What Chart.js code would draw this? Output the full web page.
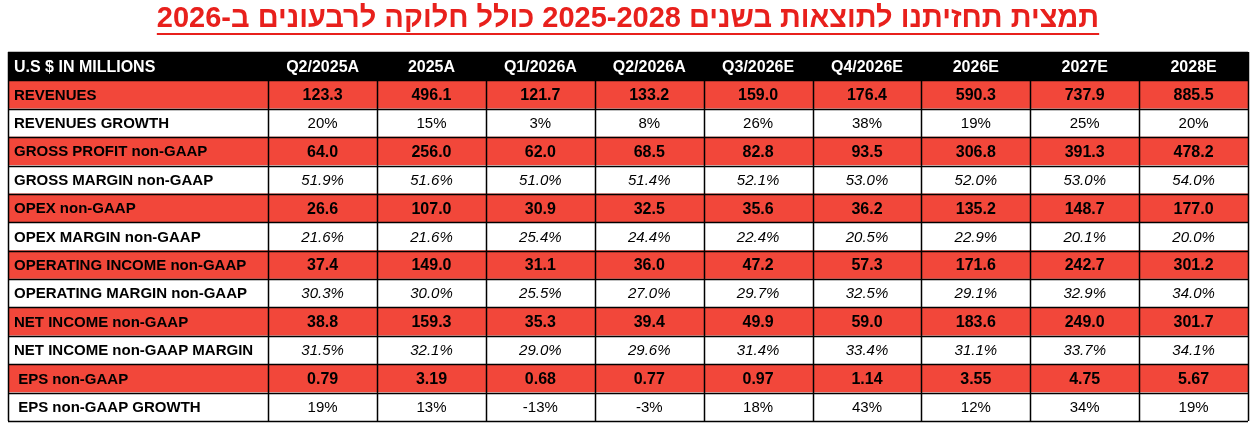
<!DOCTYPE html>
<html><head><meta charset="utf-8">
<script src="https://cdn.jsdelivr.net/npm/chart.js@4"></script>
<style>body{margin:0;background:#fff}canvas{display:block}</style>
</head><body>
<canvas id="c" width="1256" height="426"></canvas>
<script>
var title = 'תמצית תחזיתנו לתוצאות בשנים 2025-2028 כולל חלוקה לרבעונים ב-2026';
var header = ['U.S $ IN MILLIONS','Q2/2025A','2025A','Q1/2026A','Q2/2026A','Q3/2026E','Q4/2026E','2026E','2027E','2028E'];
var rowNames = ['REVENUES','REVENUES GROWTH','GROSS PROFIT non-GAAP','GROSS MARGIN non-GAAP','OPEX non-GAAP','OPEX MARGIN non-GAAP','OPERATING INCOME non-GAAP','OPERATING MARGIN non-GAAP','NET INCOME non-GAAP','NET INCOME non-GAAP MARGIN',' EPS non-GAAP',' EPS non-GAAP GROWTH'];
var revenues = ['123.3','496.1','121.7','133.2','159.0','176.4','590.3','737.9','885.5'];
var revGrowth = ['20%','15%','3%','8%','26%','38%','19%','25%','20%'];
var grossProfit = ['64.0','256.0','62.0','68.5','82.8','93.5','306.8','391.3','478.2'];
var grossMargin = ['51.9%','51.6%','51.0%','51.4%','52.1%','53.0%','52.0%','53.0%','54.0%'];
var opex = ['26.6','107.0','30.9','32.5','35.6','36.2','135.2','148.7','177.0'];
var opexMargin = ['21.6%','21.6%','25.4%','24.4%','22.4%','20.5%','22.9%','20.1%','20.0%'];
var opIncome = ['37.4','149.0','31.1','36.0','47.2','57.3','171.6','242.7','301.2'];
var opMargin = ['30.3%','30.0%','25.5%','27.0%','29.7%','32.5%','29.1%','32.9%','34.0%'];
var netIncome = ['38.8','159.3','35.3','39.4','49.9','59.0','183.6','249.0','301.7'];
var netMargin = ['31.5%','32.1%','29.0%','29.6%','31.4%','33.4%','31.1%','33.7%','34.1%'];
var eps = ['0.79','3.19','0.68','0.77','0.97','1.14','3.55','4.75','5.67'];
var epsGrowth = ['19%','13%','-13%','-3%','18%','43%','12%','34%','19%'];
var rowValues = [revenues,revGrowth,grossProfit,grossMargin,opex,opexMargin,opIncome,opMargin,netIncome,netMargin,eps,epsGrowth];
var rowStyle = ['red','plain','red','italic','red','italic','red','italic','red','italic','red','plain'];

// layout: first column weight vs data column weight
var firstW = 2.39, colW = 1;
var total = firstW + 9 * colW;
var RED = '#f2473a';
var labels = ['HEADER'].concat(rowNames);
var bgColors = ['#000'].concat(rowStyle.map(function(s){ return s === 'red' ? RED : '#fff'; }));

function edge(i){ return i === 0 ? 0 : firstW + (i - 1) * colW; }

var tablePlugin = {
  id: 'table',
  afterDatasetsDraw: function(chart){
    var ctx = chart.ctx, x = chart.scales.x, y = chart.scales.y;
    var bw = y.getPixelForValue(1) - y.getPixelForValue(0);
    ctx.save();
    // grid
    ctx.strokeStyle = '#000'; ctx.lineWidth = 1.5;
    var top = y.getPixelForValue(0) - bw/2, bot = y.getPixelForValue(labels.length-1) + bw/2;
    for (var i = 0; i <= 10; i++) {
      var px = Math.round(x.getPixelForValue(i === 10 ? total : edge(i))) + 0.5;
      ctx.beginPath(); ctx.moveTo(px, top); ctx.lineTo(px, bot); ctx.stroke();
    }
    for (var r = 0; r <= labels.length; r++) {
      var py = Math.round(top + r * bw) + 0.5;
      ctx.beginPath(); ctx.moveTo(x.getPixelForValue(0), py); ctx.lineTo(x.getPixelForValue(total), py); ctx.stroke();
    }
    ctx.textBaseline = 'middle';
    // header
    var hy = y.getPixelForValue(0) + 1;
    ctx.fillStyle = '#fff'; ctx.font = 'bold 16px "Liberation Sans", Arial';
    ctx.textAlign = 'left';
    ctx.fillText(header[0], x.getPixelForValue(0) + 6, hy);
    ctx.textAlign = 'center';
    for (var c = 1; c < 10; c++) ctx.fillText(header[c], x.getPixelForValue(edge(c) + colW/2), hy);
    // rows
    for (var r2 = 0; r2 < rowNames.length; r2++) {
      var cy = y.getPixelForValue(r2 + 1) + 1;
      var st = rowStyle[r2];
      ctx.fillStyle = '#000';
      ctx.save();
      ctx.beginPath();
      ctx.rect(x.getPixelForValue(0), cy - bw/2, x.getPixelForValue(firstW) - x.getPixelForValue(0) - 2, bw);
      ctx.clip();
      ctx.font = 'bold 15px "Liberation Sans", Arial';
      ctx.textAlign = 'left';
      ctx.fillText(rowNames[r2], x.getPixelForValue(0) + 6, cy);
      ctx.restore();
      ctx.font = st === 'red' ? 'bold 16px "Liberation Sans", Arial' : st === 'italic' ? 'italic 15px "Liberation Sans", Arial' : '15px "Liberation Sans", Arial';
      ctx.textAlign = 'center';
      var vals = rowValues[r2];
      for (var k = 0; k < 9; k++) ctx.fillText(vals[k], x.getPixelForValue(edge(k+1) + colW/2), cy);
    }
    // title
    ctx.font = 'bold 29px "Liberation Sans", Arial';
    ctx.fillStyle = '#e8201c'; ctx.strokeStyle = '#e8201c';
    ctx.direction = 'rtl'; ctx.textAlign = 'center';
    var cx = chart.width / 2;
    ctx.fillText(title, cx, 19);
    var tw = ctx.measureText(title).width;
    ctx.lineWidth = 2;
    ctx.beginPath(); ctx.moveTo(cx - tw/2, 34); ctx.lineTo(cx + tw/2, 34); ctx.stroke();
    ctx.restore();
  }
};

new Chart(document.getElementById('c'), {
  type: 'bar',
  data: {
    labels: labels,
    datasets: [{
      data: labels.map(function(){ return [0, total]; }),
      backgroundColor: bgColors,
      borderWidth: 0,
      barPercentage: 1,
      categoryPercentage: 1
    }]
  },
  options: {
    responsive: false,
    animation: false,
    indexAxis: 'y',
    layout: { padding: { left: 8, right: 8, top: 52, bottom: 5 } },
    plugins: { legend: { display: false }, tooltip: { enabled: false } },
    scales: {
      x: { type: 'linear', min: 0, max: total, display: false },
      y: { display: false }
    }
  },
  plugins: [tablePlugin]
});
</script>
</body></html>
